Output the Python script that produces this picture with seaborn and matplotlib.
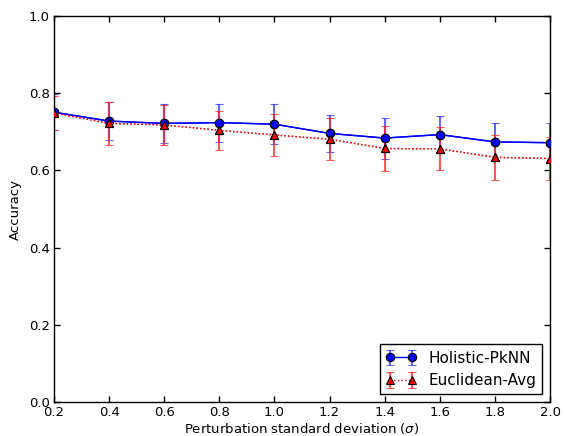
import matplotlib
matplotlib.use("Agg")
import matplotlib.pyplot as plt
import seaborn as sns
import pandas as pd

sigma = [0.2, 0.4, 0.6, 0.8, 1.0, 1.2, 1.4, 1.6, 1.8, 2.0]
holistic_acc = [0.751, 0.728, 0.722, 0.724, 0.720, 0.696, 0.684, 0.693, 0.674, 0.672]
holistic_err = [0.047, 0.050, 0.050, 0.049, 0.052, 0.049, 0.053, 0.049, 0.049, 0.052]
euclid_acc = [0.749, 0.722, 0.718, 0.704, 0.692, 0.681, 0.657, 0.656, 0.634, 0.631]
euclid_err = [0.045, 0.056, 0.052, 0.051, 0.055, 0.055, 0.058, 0.056, 0.059, 0.055]
labels = ["Holistic-PkNN", "Euclidean-Avg"]

sns.set_style("ticks")
plt.rcParams['font.family'] = ['DejaVu Sans']
plt.rcParams['mathtext.fontset'] = 'dejavusans'
plt.rcParams['text.color'] = 'black'
plt.rcParams['axes.labelcolor'] = 'black'
plt.rcParams['xtick.color'] = 'black'
plt.rcParams['ytick.color'] = 'black'

fig = plt.figure(figsize=(5.65, 4.36), dpi=100)
ax = fig.add_axes([0.0956, 0.078, 0.878, 0.885])

df = pd.DataFrame({"sigma": sigma * 2,
                   "acc": holistic_acc + euclid_acc,
                   "method": [labels[0]] * len(sigma) + [labels[1]] * len(sigma)})

eb1 = ax.errorbar(sigma, holistic_acc, yerr=holistic_err, fmt='-o', color='blue',
                  markerfacecolor='blue', markeredgecolor='black', markersize=6,
                  markeredgewidth=0.8, linewidth=1.0,
                  ecolor='#3333ff', capsize=3, elinewidth=1.5, capthick=1.5, zorder=2)
eb2 = ax.errorbar(sigma, euclid_acc, yerr=euclid_err, fmt=':^', color='red',
                  markerfacecolor='red', markeredgecolor='black', markersize=6,
                  markeredgewidth=0.8, linewidth=1.0,
                  ecolor='#ff2222', capsize=3, elinewidth=1.5, capthick=1.5, zorder=2)
for eb in (eb1, eb2):
    for c in eb[1]:
        c.set_alpha(0.75)
    for c in eb[2]:
        c.set_alpha(0.75)

sns.lineplot(data=df[df.method == labels[0]], x="sigma", y="acc", ax=ax, color='blue',
             marker='o', markersize=6, markeredgecolor='black', markeredgewidth=0.8,
             linewidth=1.0, linestyle='-', legend=False, zorder=3)
sns.lineplot(data=df[df.method == labels[1]], x="sigma", y="acc", ax=ax, color='red',
             marker='^', markersize=6, markeredgecolor='black', markeredgewidth=0.8,
             linewidth=1.0, linestyle=':', legend=False, zorder=3)

ax.set_xlim(0.2, 2.0)
ax.set_ylim(0.0, 1.0)
ax.set_xticks([0.2, 0.4, 0.6, 0.8, 1.0, 1.2, 1.4, 1.6, 1.8, 2.0])
ax.set_yticks([0.0, 0.2, 0.4, 0.6, 0.8, 1.0])
ax.tick_params(direction='in', top=True, right=True, length=4, width=1,
               labelsize=9.5, pad=3, colors='black')
for s in ax.spines.values():
    s.set_visible(True)
    s.set_linewidth(1.0)
    s.set_color('black')
ax.set_xlabel(r"Perturbation standard deviation ($\sigma$)", fontsize=9.5, labelpad=1)
ax.set_ylabel("Accuracy", fontsize=9.5, labelpad=5)

leg = ax.legend([eb1, eb2], labels, loc='lower right', numpoints=2, fontsize=11,
                frameon=True, fancybox=False, edgecolor='black', framealpha=1,
                borderaxespad=0.5, handlelength=2.0)
leg.get_frame().set_linewidth(1.0)

fig.savefig("out.png", dpi=100, facecolor='white')
